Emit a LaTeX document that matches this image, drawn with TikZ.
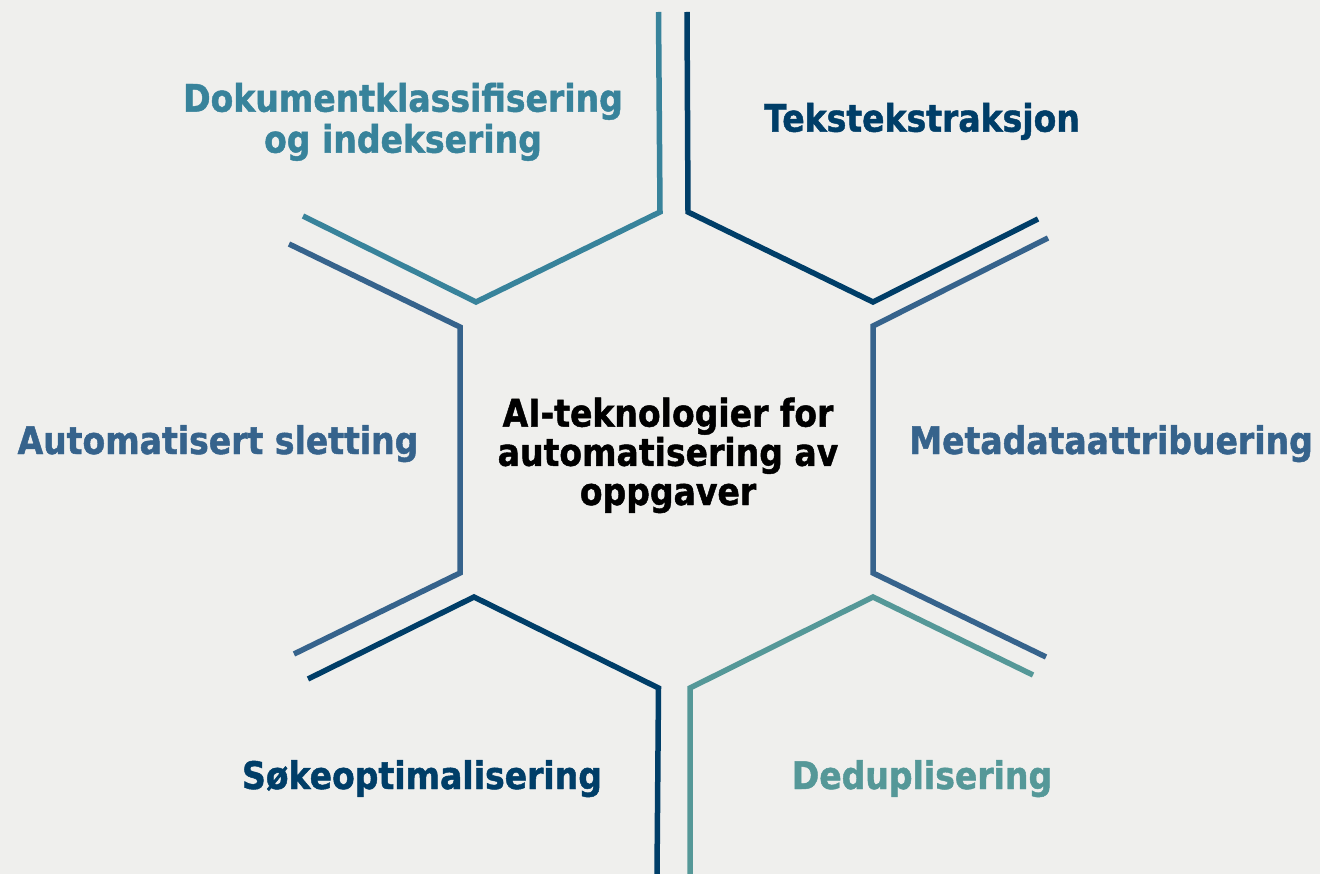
\documentclass[tikz,border=0pt]{standalone}
\usepackage{fontspec}
\setmainfont{DejaVu Sans}[FakeStretch=0.87, BoldFeatures={FakeBold=1.2}]
\definecolor{bgc}{RGB}{239,239,237}
\definecolor{tealc}{RGB}{56,131,155}
\definecolor{navyc}{RGB}{0,62,104}
\definecolor{bluec}{RGB}{54,99,140}
\definecolor{lteal}{RGB}{85,152,152}
\tikzset{
  hexline/.style={line width=5.5pt, line join=miter, line cap=butt},
  lbl/.style={font=\fontsize{38}{41}\selectfont\bfseries, align=center, inner sep=0pt, anchor=base},
}
\begin{document}
\begin{tikzpicture}[x=1pt,y=-1pt]
\fill[bgc] (0,0) rectangle (1320,874);
\useasboundingbox (0,0) rectangle (1320,874);
% hexagon segments
\draw[hexline, tealc] (303,216) -- (476,302) -- (660,212) -- (658.5,12);
\draw[hexline, navyc] (687,12) -- (688,212) -- (873,302) -- (1038,219);
\draw[hexline, bluec] (1048,238) -- (873,326) -- (873,573) -- (1046,657);
\draw[hexline, lteal] (1033,675) -- (873,597) -- (690,688) -- (690,874);
\draw[hexline, navyc] (308,679) -- (474,597) -- (658.5,688) -- (657,874);
\draw[hexline, bluec] (289,244) -- (460,327) -- (460,573) -- (294,654);
% labels (base anchor = baseline of the last line)
\node[lbl, text=tealc] (dok) at (403,152.7) {Dokumentklassifisering\\og indeksering};
\node[lbl, text=navyc] (tek) at (922,131.7) {Tekstekstraksjon};
\node[lbl, text=bluec] (aut) at (218,454) {Automatisert sletting};
\node[lbl, text=bluec] (meta) at (1111,454) {Metadataattribuering};
\node[lbl, text=navyc] (sok) at (422,789) {Søkeoptimalisering};
\node[lbl, text=lteal] (dedup) at (922,789) {Deduplisering};
\node[lbl, text=black, font=\fontsize{38}{39.2}\selectfont\bfseries] (ai) at (668,505) {AI-teknologier for\\automatisering av\\oppgaver};
\end{tikzpicture}
\end{document}
